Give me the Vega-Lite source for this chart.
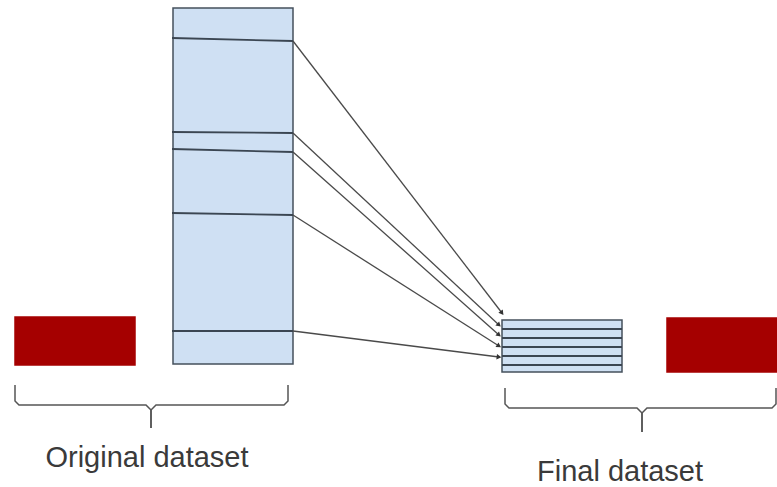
{
  "$schema": "https://vega.github.io/schema/vega-lite/v6.json",
  "autosize": "none",
  "width": 777,
  "height": 487,
  "padding": 0,
  "background": "white",
  "config": {"view": {"stroke": null}},
  "datasets": {
    "blocks": [
      {"item": "excluded", "x": 15, "x2": 135, "y": 317, "y2": 365},
      {"item": "kept", "x": 173, "x2": 293, "y": 8, "y2": 364},
      {"item": "kept", "x": 502, "x2": 622, "y": 320, "y2": 372},
      {"item": "excluded", "x": 667, "x2": 800, "y": 318, "y2": 372}
    ],
    "dividers": [
      {"x": 172, "y": 38, "x2": 293, "y2": 41},
      {"x": 172, "y": 132, "x2": 293, "y2": 133},
      {"x": 172, "y": 149, "x2": 293, "y2": 152},
      {"x": 172, "y": 213, "x2": 293, "y2": 215},
      {"x": 172, "y": 331, "x2": 293, "y2": 331},
      {"x": 502, "y": 329, "x2": 622, "y2": 329},
      {"x": 502, "y": 338, "x2": 622, "y2": 338},
      {"x": 502, "y": 347, "x2": 622, "y2": 347},
      {"x": 502, "y": 356, "x2": 622, "y2": 356},
      {"x": 502, "y": 365, "x2": 622, "y2": 365}
    ],
    "arrows": [
      {"record": 1, "x": 293, "y": 41, "x2": 502, "y2": 313},
      {"record": 2, "x": 293, "y": 133, "x2": 499, "y2": 325},
      {"record": 3, "x": 293, "y": 152, "x2": 499, "y2": 335},
      {"record": 4, "x": 293, "y": 215, "x2": 499, "y2": 346},
      {"record": 5, "x": 293, "y": 331, "x2": 499, "y2": 357}
    ],
    "braces": [
      {"part": "L1", "order": 1, "x": 15, "y": 385},
      {"part": "L1", "order": 2, "x": 15, "y": 401},
      {"part": "L1", "order": 3, "x": 19, "y": 405},
      {"part": "L1", "order": 4, "x": 146, "y": 405},
      {"part": "L1", "order": 5, "x": 151, "y": 410},
      {"part": "L1", "order": 6, "x": 151, "y": 428},
      {"part": "L2", "order": 1, "x": 288, "y": 385},
      {"part": "L2", "order": 2, "x": 288, "y": 401},
      {"part": "L2", "order": 3, "x": 284, "y": 405},
      {"part": "L2", "order": 4, "x": 156, "y": 405},
      {"part": "L2", "order": 5, "x": 151, "y": 410},
      {"part": "L2", "order": 6, "x": 151, "y": 428},
      {"part": "R1", "order": 1, "x": 505, "y": 388},
      {"part": "R1", "order": 2, "x": 505, "y": 404},
      {"part": "R1", "order": 3, "x": 509, "y": 408},
      {"part": "R1", "order": 4, "x": 637, "y": 408},
      {"part": "R1", "order": 5, "x": 642, "y": 413},
      {"part": "R1", "order": 6, "x": 642, "y": 432},
      {"part": "R2", "order": 1, "x": 776, "y": 388},
      {"part": "R2", "order": 2, "x": 776, "y": 404},
      {"part": "R2", "order": 3, "x": 772, "y": 408},
      {"part": "R2", "order": 4, "x": 647, "y": 408},
      {"part": "R2", "order": 5, "x": 642, "y": 413},
      {"part": "R2", "order": 6, "x": 642, "y": 432}
    ],
    "labels": [
      {"label": "Original dataset", "x": 147, "y": 467},
      {"label": "Final dataset", "x": 620, "y": 481}
    ]
  },
  "layer": [
    {
      "data": {"name": "blocks"},
      "mark": {"type": "rect", "strokeWidth": 1.5, "clip": true},
      "encoding": {
        "x": {"field": "x", "type": "quantitative", "scale": {"domain": [0, 777], "nice": false, "zero": false}, "axis": null},
        "x2": {"field": "x2"},
        "y": {"field": "y", "type": "quantitative", "scale": {"domain": [0, 487], "nice": false, "zero": false, "reverse": true}, "axis": null},
        "y2": {"field": "y2"},
        "fill": {"field": "item", "type": "nominal", "scale": {"domain": ["kept", "excluded"], "range": ["#cfe0f3", "#a50000"]}, "legend": null},
        "stroke": {"field": "item", "type": "nominal", "scale": {"domain": ["kept", "excluded"], "range": ["#45505c", "#a50000"]}, "legend": null}
      }
    },
    {
      "data": {"name": "dividers"},
      "mark": {"type": "rule", "color": "#3b4652", "strokeWidth": 1.8},
      "encoding": {
        "x": {"field": "x", "type": "quantitative"},
        "x2": {"field": "x2"},
        "y": {"field": "y", "type": "quantitative"},
        "y2": {"field": "y2"}
      }
    },
    {
      "data": {"name": "arrows"},
      "mark": {"type": "rule", "color": "#4a4a4a", "strokeWidth": 1.3},
      "encoding": {
        "x": {"field": "x", "type": "quantitative"},
        "x2": {"field": "x2"},
        "y": {"field": "y", "type": "quantitative"},
        "y2": {"field": "y2"}
      }
    },
    {
      "data": {"name": "arrows"},
      "transform": [
        {"calculate": "atan2(datum.y2 - datum.y, datum.x2 - datum.x) * 180 / PI", "as": "heading"}
      ],
      "mark": {"type": "point", "shape": "triangle-right", "filled": true, "color": "#333333", "size": 30, "opacity": 1},
      "encoding": {
        "x": {"field": "x2", "type": "quantitative"},
        "y": {"field": "y2", "type": "quantitative"},
        "angle": {"field": "heading", "type": "quantitative", "scale": null}
      }
    },
    {
      "data": {"name": "braces"},
      "mark": {"type": "line", "color": "#555555", "strokeWidth": 1.5},
      "encoding": {
        "x": {"field": "x", "type": "quantitative"},
        "y": {"field": "y", "type": "quantitative"},
        "detail": {"field": "part", "type": "nominal"},
        "order": {"field": "order", "type": "quantitative"}
      }
    },
    {
      "data": {"name": "labels"},
      "mark": {"type": "text", "font": "Liberation Sans", "fontSize": 29, "color": "#3a3a3a", "align": "center", "baseline": "alphabetic"},
      "encoding": {
        "x": {"field": "x", "type": "quantitative"},
        "y": {"field": "y", "type": "quantitative"},
        "text": {"field": "label", "type": "nominal"}
      }
    }
  ]
}
